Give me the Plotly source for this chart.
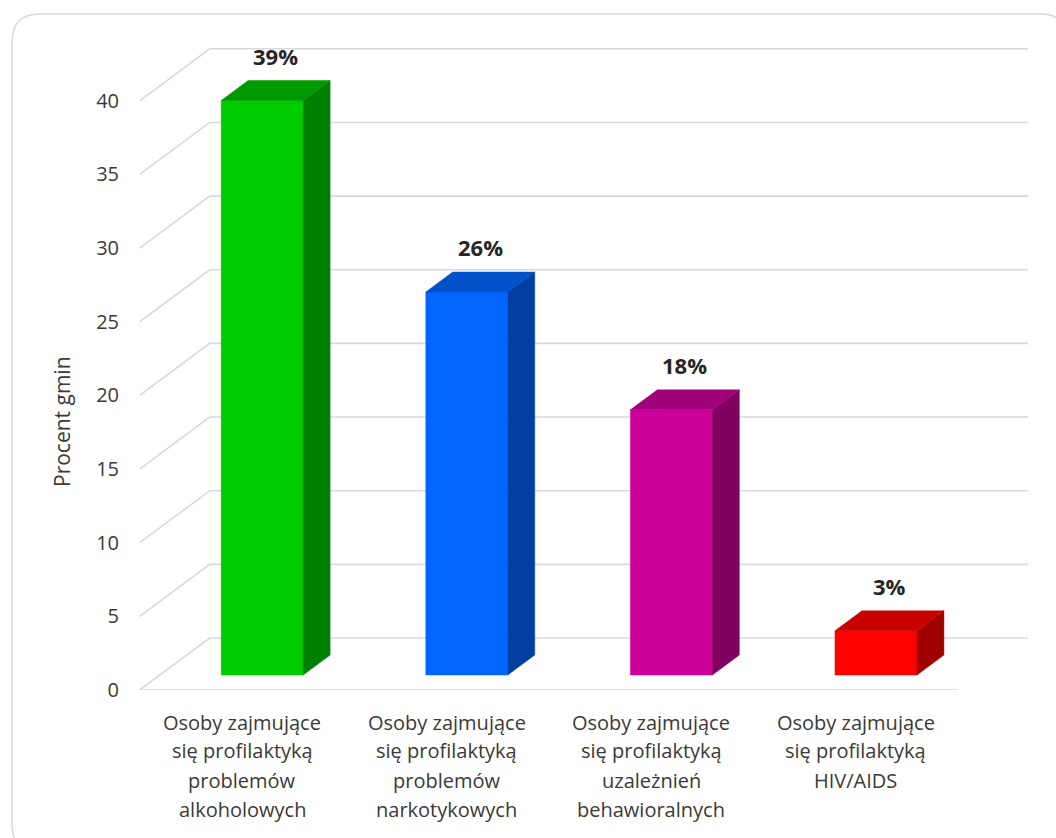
import plotly.graph_objects as go

# ---------------- data ----------------
categories = [
    ["Osoby zajmujące", "się profilaktyką", "problemów", "alkoholowych"],
    ["Osoby zajmujące", "się profilaktyką", "problemów", "narkotykowych"],
    ["Osoby zajmujące", "się profilaktyką", "uzależnień", "behawioralnych"],
    ["Osoby zajmujące", "się profilaktyką", "HIV/AIDS"],
]
values = [39, 26, 18, 3]
value_labels = ["39%", "26%", "18%", "3%"]
y_ticks = [0, 5, 10, 15, 20, 25, 30, 35, 40]
y_title = "Procent gmin"

front_colors = ["#00CC00", "#0066FF", "#CC0099", "#FF0000"]
top_colors = ["#009A00", "#0050C8", "#A0007A", "#C80000"]
side_colors = ["#008000", "#003FA0", "#800060", "#A00000"]

# ---------------- geometry (pixels) ----------------
W, H = 1056, 838
L, R, T, B = 138, 1045, 10, 690
PX_PER_CAT = 204.6
X0_PX = 242.0
PX_PER_VAL = 14.73
DEPTH_DX_PX, DEPTH_DY_PX = 70.0, 52.0
DX = DEPTH_DX_PX / PX_PER_CAT
DY = DEPTH_DY_PX / PX_PER_VAL
D1, D2 = 15.0 / 52.0, 35.0 / 52.0
BW = 82.0 / PX_PER_CAT
GRID = "#d9d9d9"
TXT = "#3a3a3a"
FONT = "Open Sans"


def P(x, v, d):
    return x + d * DX, v + d * DY


def poly(points, color):
    xs = [p[0] for p in points] + [points[0][0]]
    ys = [p[1] for p in points] + [points[0][1]]
    return go.Scatter(x=xs, y=ys, mode="lines", fill="toself", fillcolor=color,
                      line=dict(color=color, width=0.5), hoverinfo="skip",
                      showlegend=False)


def py2paper(py):
    return (B - py) / (B - T)


def px2paperx(px):
    return (px - L) / (R - L)


fig = go.Figure()

n = len(values)
# gridlines: left wall diagonals + back wall horizontals
for v in y_ticks:
    a = P(-0.5, v, 0)
    b = P(-0.5, v, 1)
    c = P(n - 0.5, v, 1)
    fig.add_trace(go.Scatter(x=[a[0], b[0], c[0]], y=[a[1], b[1], c[1]], mode="lines",
                             line=dict(color=GRID, width=1.6), hoverinfo="skip",
                             showlegend=False))
# front floor edge
f0 = P(-0.5, 0, 0)
f1 = P(n - 0.5, 0, 0)
fig.add_trace(go.Scatter(x=[f0[0], f1[0]], y=[f0[1], f1[1]], mode="lines",
                         line=dict(color=GRID, width=1.6), hoverinfo="skip",
                         showlegend=False))

annotations = []
for i, v in enumerate(values):
    xl, xr = i - BW / 2, i + BW / 2
    front = [P(xl, 0, D1), P(xr, 0, D1), P(xr, v, D1), P(xl, v, D1)]
    side = [P(xr, 0, D1), P(xr, 0, D2), P(xr, v, D2), P(xr, v, D1)]
    top = [P(xl, v, D1), P(xr, v, D1), P(xr, v, D2), P(xl, v, D2)]
    fig.add_trace(poly(front, front_colors[i]))
    fig.add_trace(poly(side, side_colors[i]))
    fig.add_trace(poly(top, top_colors[i]))
    ly = P(i, v, D2)[1]
    lx = P(i, v, (D1 + D2) / 2)[0]
    annotations.append(dict(x=lx, y=ly, xref="x", yref="y", text=value_labels[i],
                            showarrow=False, yanchor="middle", yshift=25,
                            font=dict(family=FONT, size=22, color="#262626",
                                      weight="bold")))

# category labels (one annotation per line for Excel-like line spacing)
for i, lines in enumerate(categories):
    for j, line in enumerate(lines):
        pix = 722 + 29 * j
        annotations.append(dict(x=i, y=py2paper(pix), xref="x", yref="paper",
                                text=line, showarrow=False, yanchor="middle",
                                font=dict(family=FONT, size=20, color=TXT)))

# axis title
annotations.append(dict(x=px2paperx(62), y=py2paper(422), xref="paper",
                        yref="paper", text=y_title, textangle=-90, showarrow=False,
                        xanchor="center", yanchor="middle",
                        font=dict(family=FONT, size=21, color=TXT)))


def px2paper(px, py):
    return px2paperx(px), py2paper(py)


# rounded outer frame
fx0, fy0, fx1, fy1, rr = 12, 14, 1068, 852, 28
pts = {
    "a": px2paper(fx0 + rr, fy0), "b": px2paper(fx1 - rr, fy0), "c": px2paper(fx1, fy0),
    "d": px2paper(fx1, fy0 + rr), "e": px2paper(fx1, fy1 - rr), "f": px2paper(fx1, fy1),
    "g": px2paper(fx1 - rr, fy1), "h": px2paper(fx0 + rr, fy1), "i": px2paper(fx0, fy1),
    "j": px2paper(fx0, fy1 - rr), "k": px2paper(fx0, fy0 + rr), "l": px2paper(fx0, fy0),
}
s = lambda k: f"{pts[k][0]:.5f},{pts[k][1]:.5f}"
path = (f"M {s('a')} L {s('b')} Q {s('c')} {s('d')} L {s('e')} Q {s('f')} {s('g')} "
        f"L {s('h')} Q {s('i')} {s('j')} L {s('k')} Q {s('l')} {s('a')} Z")

fig.update_layout(
    width=W, height=H,
    margin=dict(l=L, r=W - R, t=T, b=H - B, pad=0),
    paper_bgcolor="white", plot_bgcolor="white",
    showlegend=False,
    annotations=annotations,
    shapes=[dict(type="path", path=path, xref="paper", yref="paper",
                 line=dict(color="#d9d9d9", width=1.5), layer="below")],
    xaxis=dict(range=[(L - X0_PX) / PX_PER_CAT, (R - X0_PX) / PX_PER_CAT],
               showgrid=False, zeroline=False, showline=False, showticklabels=False,
               fixedrange=True),
    yaxis=dict(range=[0, (B - T) / PX_PER_VAL], tickvals=y_ticks,
               ticktext=[str(t) for t in y_ticks], showgrid=False, zeroline=False,
               showline=False, ticks="", ticklabelstandoff=18,
               tickfont=dict(family=FONT, size=20, color=TXT), fixedrange=True),
)

fig.write_html("out.html", config={"displayModeBar": False},
               post_script="document.body.style.margin='0';document.body.style.overflow='hidden';")
